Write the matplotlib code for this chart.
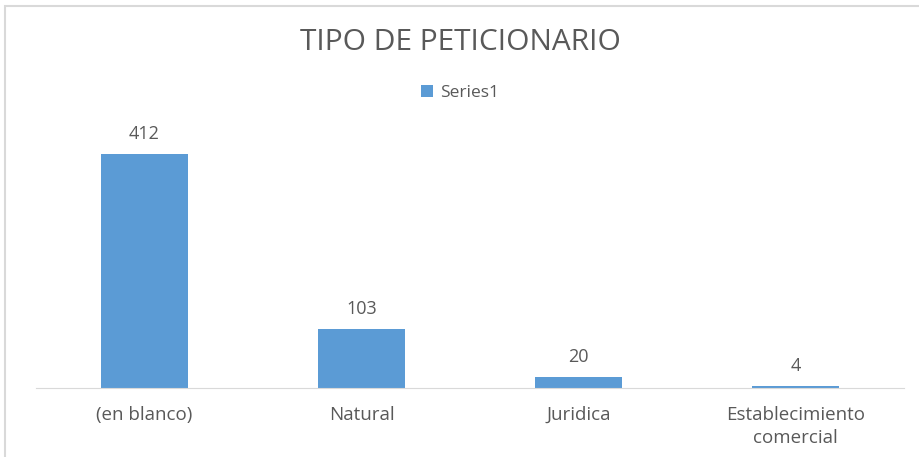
from matplotlib import pyplot as plt
from matplotlib.patches import Rectangle
import numpy as np

categories = ['(en blanco)', 'Natural', 'Juridica', 'Establecimiento\ncomercial']
values = [412, 103, 20, 4]
series_name = 'Series1'

bar_color = '#5B9BD5'
text_color = '#595959'
plt.rcParams['font.family'] = ['Open Sans', 'DejaVu Sans']

W, H = 920, 457
fig = plt.figure(figsize=(W / 100, H / 100), dpi=100)

# plot area in pixels (left, top, right, bottom)
l, t, r, b = 36, 132, 904, 388
ax = fig.add_axes([l / W, 1 - b / H, (r - l) / W, (b - t) / H])

x = np.arange(len(categories))
bars = ax.bar(x, values, width=0.4, color=bar_color, label=series_name, zorder=2)
ax.set_xlim(-0.5, len(categories) - 0.5)
ax.set_ylim(0, 450)

for rect, v in zip(bars, values):
    ax.annotate(str(v), (rect.get_x() + rect.get_width() / 2, v),
                xytext=(0, 8), textcoords='offset points',
                ha='center', va='bottom', fontsize=13, color=text_color)

ax.set_yticks([])
ax.set_xticks(x)
ax.set_xticklabels(categories, fontsize=13.5, color=text_color, linespacing=1.35)
ax.tick_params(axis='x', length=0, pad=13)
for side in ['top', 'right', 'left']:
    ax.spines[side].set_visible(False)
ax.spines['bottom'].set_color('#D9D9D9')

fig.text(0.5, 1 - 42 / H, 'TIPO DE PETICIONARIO', ha='center', va='center',
         fontsize=21.5, color=text_color)

leg = fig.legend(loc='center', bbox_to_anchor=(0.5, 1 - 93 / H), frameon=False,
                 fontsize=12.5, handlelength=0.7, handleheight=0.7, handletextpad=0.4)
for txt in leg.get_texts():
    txt.set_color(text_color)

# chart border (cropped screenshot)
fig.patches.append(Rectangle((5 / W, -0.1), 1.2, 1 - 6 / H + 0.1, transform=fig.transFigure,
                             fill=False, edgecolor='#D9D9D9', linewidth=1.5))

plt.savefig('out.png', dpi=100)
